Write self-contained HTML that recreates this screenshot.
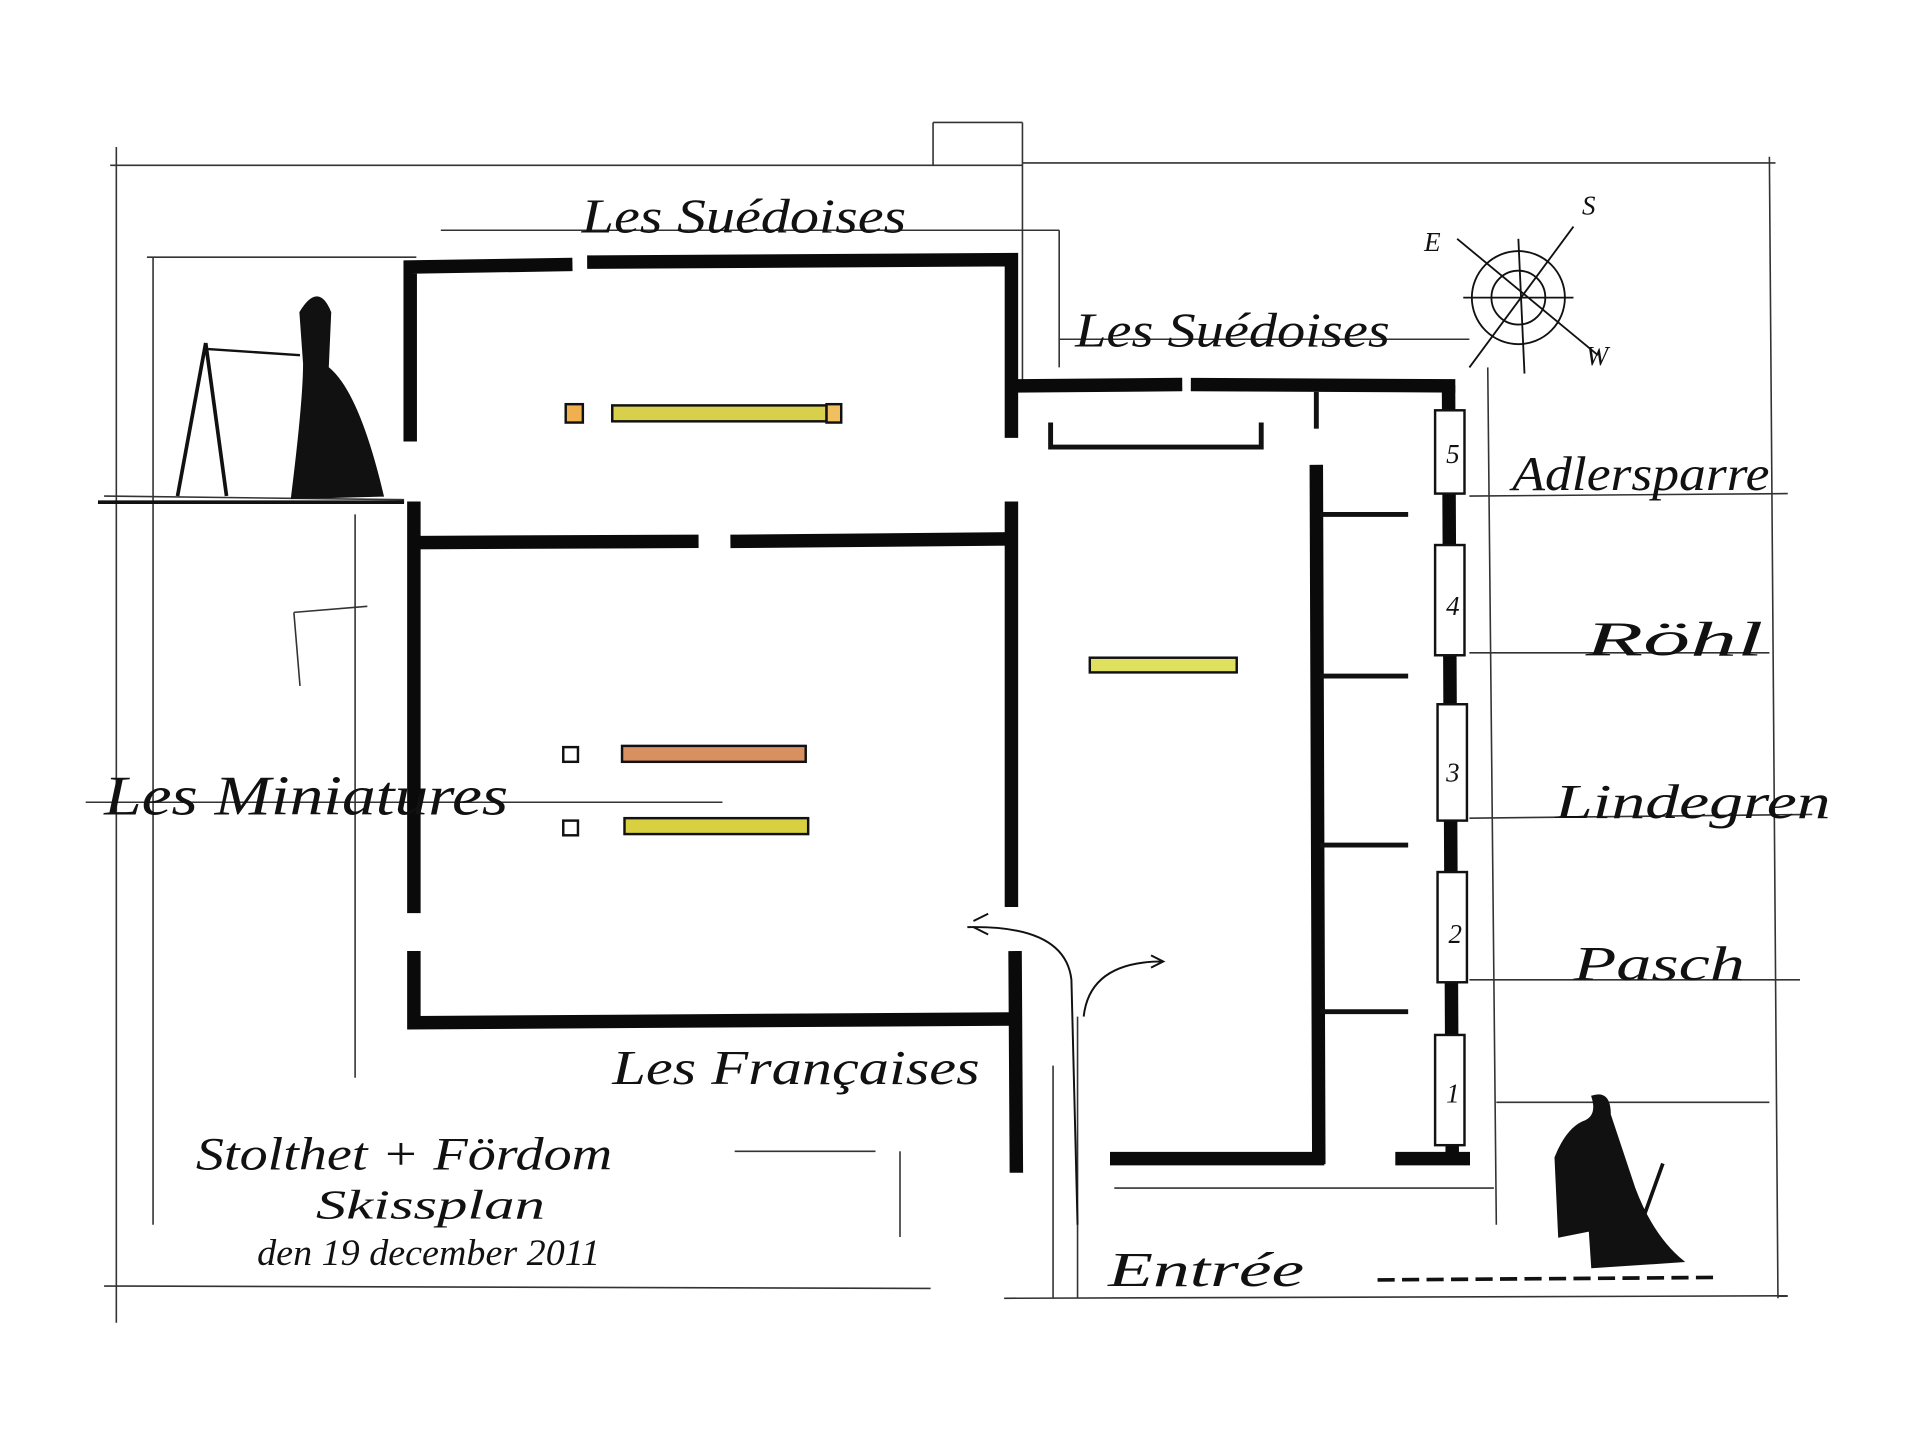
<!DOCTYPE html>
<html><head><meta charset="utf-8"><style>
html,body{margin:0;padding:0;background:#fff;}
svg{display:block}
text{font-family:"Liberation Serif",serif;font-style:italic;fill:#111}
</style></head><body>
<svg width="1920" height="1433" viewBox="0 0 1568 1170" preserveAspectRatio="none" xmlns="http://www.w3.org/2000/svg">
<rect width="1568" height="1170" fill="#fff"/>
<g stroke="#333" stroke-width="1.3" fill="none">
<line x1="90" y1="135" x2="835" y2="135"/>
<line x1="835" y1="133" x2="1450" y2="133"/>
<line x1="95" y1="120" x2="95" y2="1080"/>
<line x1="1445" y1="128" x2="1452" y2="1060"/>
<line x1="85" y1="1050" x2="760" y2="1052"/>
<line x1="820" y1="1060" x2="1460" y2="1058"/>
<line x1="125" y1="210" x2="125" y2="1000"/>
<line x1="120" y1="210" x2="340" y2="210"/>
<line x1="360" y1="188" x2="865" y2="188"/>
<line x1="865" y1="188" x2="865" y2="300"/>
<line x1="865" y1="277" x2="1200" y2="277"/>
<line x1="1215" y1="300" x2="1222" y2="1000"/>
<line x1="1200" y1="405" x2="1460" y2="403"/>
<line x1="1200" y1="533" x2="1445" y2="533"/>
<line x1="1200" y1="668" x2="1480" y2="665"/>
<line x1="1200" y1="800" x2="1470" y2="800"/>
<line x1="1222" y1="900" x2="1445" y2="900"/>
<line x1="85" y1="405" x2="330" y2="408"/>
<line x1="290" y1="420" x2="290" y2="880"/>
<line x1="70" y1="655" x2="590" y2="655"/>
<line x1="835" y1="100" x2="835" y2="320"/>
<line x1="762" y1="100" x2="835" y2="100"/>
<line x1="762" y1="100" x2="762" y2="135"/>
<line x1="860" y1="870" x2="860" y2="1060"/>
<line x1="880" y1="830" x2="880" y2="1060"/>
<line x1="735" y1="940" x2="735" y2="1010"/>
<line x1="600" y1="940" x2="715" y2="940"/>
<line x1="910" y1="970" x2="1220" y2="970"/>
<line x1="240" y1="500" x2="300" y2="495"/>
<line x1="240" y1="500" x2="245" y2="560"/>
</g>
<g stroke="#0a0a0a" stroke-width="11" fill="none" stroke-linecap="square">
<polyline points="335,355 335,218 462,216"/>
<polyline points="485,214 826,212 826,352"/>
<line x1="338" y1="415" x2="338" y2="740"/>
<polyline points="338,782 338,835 820,832"/>
<line x1="340" y1="443" x2="565" y2="442"/>
<line x1="602" y1="442" x2="820" y2="440"/>
<line x1="826" y1="415" x2="826" y2="735"/>
<line x1="829" y1="782" x2="830" y2="952"/>
<line x1="832" y1="315" x2="960" y2="314"/>
<line x1="978" y1="314" x2="1183" y2="315"/>
<line x1="1183" y1="320" x2="1186" y2="945"/>
<line x1="1075" y1="385" x2="1077" y2="945"/>
<line x1="912" y1="946" x2="1076" y2="946"/>
<line x1="1145" y1="946" x2="1195" y2="946"/>
</g>
<g stroke="#111" stroke-width="4" fill="none">
<polyline points="858,345 858,365 1030,365 1030,345"/>
<line x1="1078" y1="420" x2="1150" y2="420"/>
<line x1="1078" y1="552" x2="1150" y2="552"/>
<line x1="1078" y1="690" x2="1150" y2="690"/>
<line x1="1078" y1="826" x2="1150" y2="826"/>
<line x1="1075" y1="350" x2="1075" y2="320"/>
</g>
<g stroke="#111" stroke-width="2" fill="#fff">
<rect x="1172" y="335" width="24" height="68"/>
<rect x="1172" y="445" width="24" height="90"/>
<rect x="1174" y="575" width="24" height="95"/>
<rect x="1174" y="712" width="24" height="90"/>
<rect x="1172" y="845" width="24" height="90"/>
</g>
<g font-size="22"><text x="1181" y="378">5</text><text x="1181" y="502">4</text><text x="1181" y="638">3</text><text x="1183" y="770">2</text><text x="1181" y="900">1</text></g>
<g stroke="#111" stroke-width="2">
<rect x="500" y="331" width="175" height="13" fill="#d8d04a"/>
<rect x="462" y="330" width="14" height="15" fill="#f0b050"/>
<rect x="675" y="330" width="12" height="15" fill="#f0c060"/>
<rect x="890" y="537" width="120" height="12" fill="#e0e060"/>
<rect x="508" y="609" width="150" height="13" fill="#d89060"/>
<rect x="510" y="668" width="150" height="13" fill="#d8d040"/>
<rect x="460" y="610" width="12" height="12" fill="#fff"/>
<rect x="460" y="670" width="12" height="12" fill="#fff"/>
</g>
<g stroke="#111" stroke-width="1.6" fill="none">
<path d="M790 757 Q870 755 875 800 L880 1000"/>
<path d="M795 752 l12 -6 M795 757 l12 6"/>
<path d="M885 830 Q890 785 950 785"/>
<path d="M940 780 l10 5 -10 5"/>
</g>
<g stroke="#111" stroke-width="1.5" fill="none">
<circle cx="1240" cy="243" r="38"/>
<circle cx="1240" cy="243" r="22"/>
<line x1="1190" y1="195" x2="1305" y2="290"/>
<line x1="1285" y1="185" x2="1200" y2="300"/>
<line x1="1240" y1="195" x2="1245" y2="305"/>
<line x1="1195" y1="243" x2="1285" y2="243"/>
</g>
<g font-size="22" font-style="normal"><text x="1163" y="205">E</text><text x="1292" y="175">S</text><text x="1295" y="298">W</text></g>
<g fill="#111" stroke="#111">
<path d="M245 255 q15 -25 25 0 l-2 45 q25 20 45 105 l-75 2 q10 -80 10 -110 z"/>
<line x1="145" y1="405" x2="168" y2="280" stroke-width="3"/>
<line x1="185" y1="405" x2="168" y2="280" stroke-width="3"/>
<line x1="170" y1="285" x2="245" y2="290" stroke-width="2"/>
<path d="M1270 945 q10 -25 25 -30 q10 -5 5 -20 q15 -5 15 15 q10 30 20 60 q15 40 40 60 l-75 5 l-2 -30 l-25 5 z"/>
<line x1="1340" y1="1000" x2="1358" y2="950" stroke-width="3"/>
</g>
<line x1="80" y1="410" x2="330" y2="410" stroke="#111" stroke-width="3"/>
<line x1="1125" y1="1045" x2="1400" y2="1043" stroke="#111" stroke-width="3" stroke-dasharray="14 6"/>
<g font-size="40" lengthAdjust="spacingAndGlyphs">
<text x="475" y="190" textLength="265" lengthAdjust="spacingAndGlyphs">Les Suédoises</text>
<text x="878" y="283" textLength="257" lengthAdjust="spacingAndGlyphs">Les Suédoises</text>
<text x="1235" y="400" textLength="210" lengthAdjust="spacingAndGlyphs">Adlersparre</text>
<text x="1295" y="535" textLength="145" lengthAdjust="spacingAndGlyphs">Röhl</text>
<text x="1270" y="668" textLength="225" lengthAdjust="spacingAndGlyphs">Lindegren</text>
<text x="1285" y="800" textLength="140" lengthAdjust="spacingAndGlyphs">Pasch</text>
<text x="85" y="665" font-size="46" textLength="330" lengthAdjust="spacingAndGlyphs">Les Miniatures</text>
<text x="500" y="885" textLength="300" lengthAdjust="spacingAndGlyphs">Les Françaises</text>
<text x="905" y="1050" textLength="160" lengthAdjust="spacingAndGlyphs">Entrée</text>
<text x="160" y="955" font-size="38" textLength="340" lengthAdjust="spacingAndGlyphs">Stolthet + Fördom</text>
<text x="258" y="995" font-size="34" textLength="187" lengthAdjust="spacingAndGlyphs">Skissplan</text>
<text x="210" y="1033" font-size="30" textLength="280" lengthAdjust="spacingAndGlyphs">den 19 december 2011</text>
</g>
</svg>
</body></html>
